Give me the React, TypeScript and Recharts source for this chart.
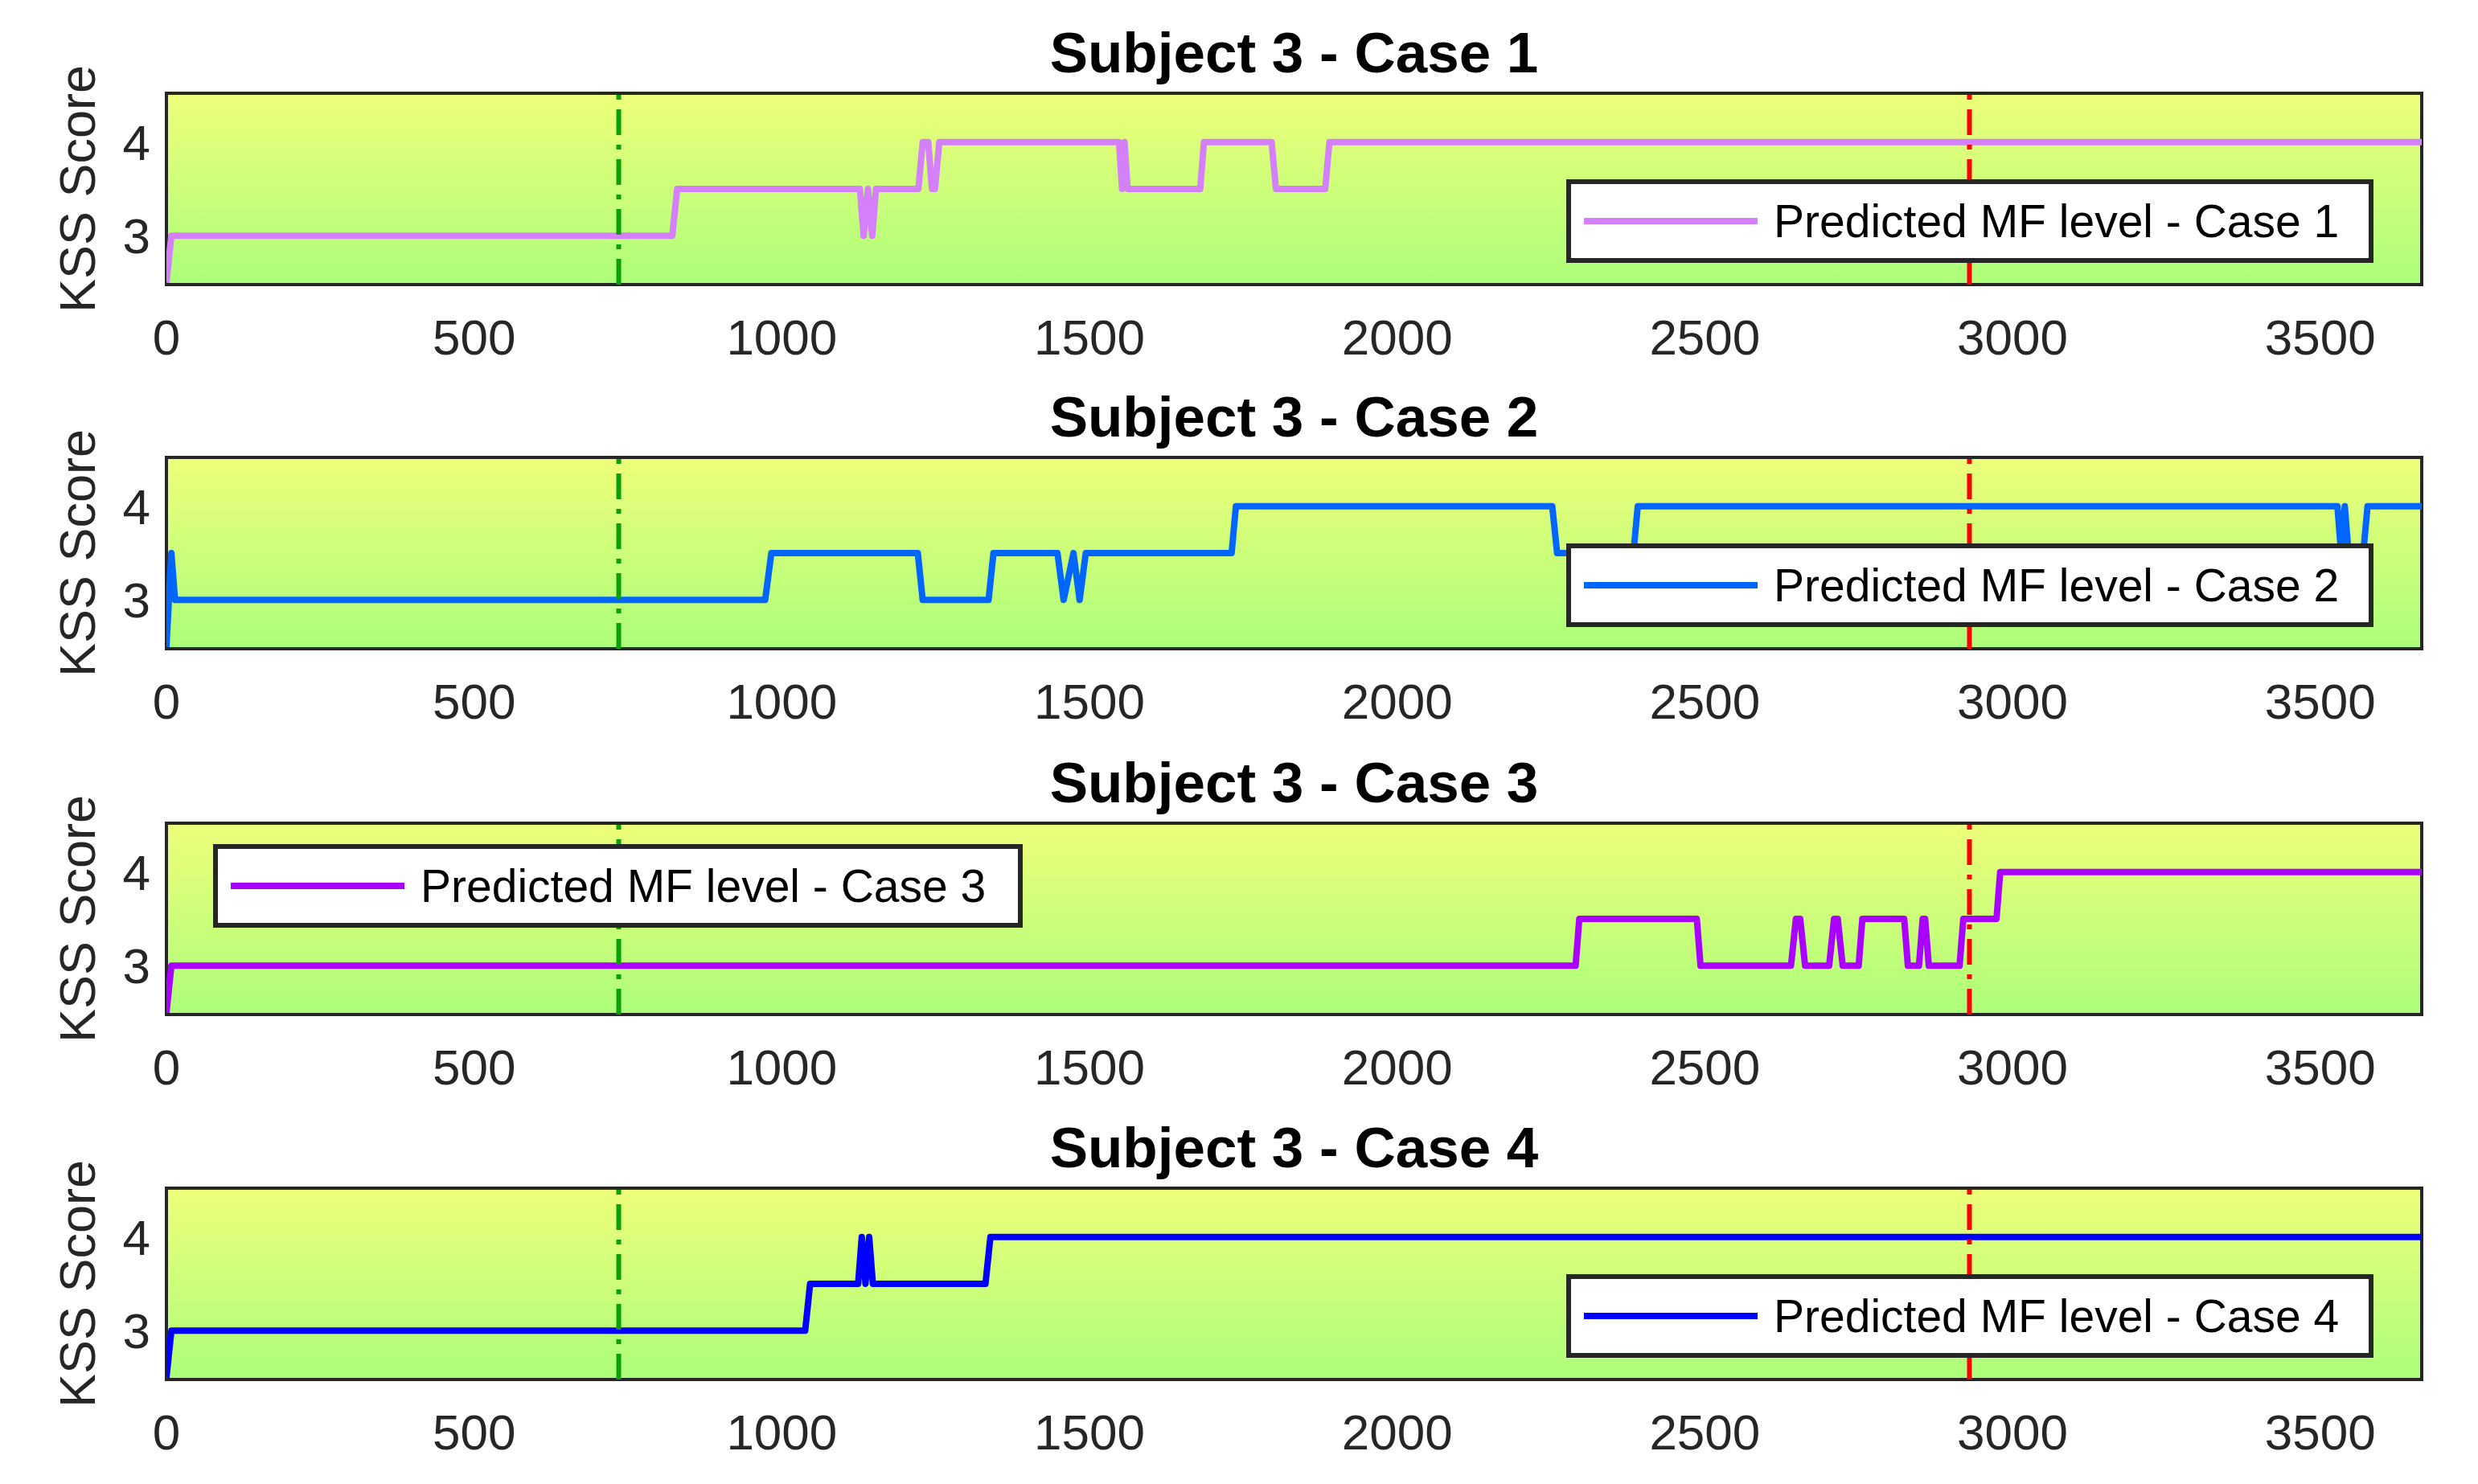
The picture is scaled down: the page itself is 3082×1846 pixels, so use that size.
import React from 'react'
import {
  LineChart, Line, XAxis, YAxis, CartesianGrid, ReferenceLine, ReferenceArea, Legend,
} from 'recharts'

// ─── data ─────────────────────────────────────────────────────
const xTicks = [0, 500, 1000, 1500, 2000, 2500, 3000, 3500]
const yTicks = [3, 4]
const X_MAX = 3665
const Y_MIN = 2.48
const Y_MAX = 4.52
const greenMarker = 735
const redMarker = 2930

const case1Time = [0, 8, 822, 830, 1127, 1133, 1140, 1147, 1153, 1222, 1229, 1238, 1244, 1249, 1256, 1548, 1553, 1557, 1562, 1680, 1686, 1796, 1803, 1883, 1890, 3665]
const case1Level = [2.5, 3, 3, 3.5, 3.5, 3, 3.5, 3, 3.5, 3.5, 4, 4, 3.5, 3.5, 4, 4, 3.5, 4, 3.5, 3.5, 4, 4, 3.5, 3.5, 4, 4]

const case2Time = [0, 8, 14, 973, 983, 1221, 1229, 1336, 1344, 1448, 1458, 1474, 1484, 1494, 1731, 1738, 2252, 2260, 2384, 2391, 3528, 3534, 3540, 3546, 3570, 3577, 3665]
const case2Level = [2.5, 3.5, 3, 3, 3.5, 3.5, 3, 3, 3.5, 3.5, 3, 3.5, 3, 3.5, 3.5, 4, 4, 3.5, 3.5, 4, 4, 3.5, 4, 3.5, 3.5, 4, 4]

const case3Time = [0, 8, 2290, 2296, 2487, 2493, 2640, 2648, 2655, 2663, 2702, 2710, 2716, 2724, 2750, 2756, 2824, 2830, 2848, 2854, 2858, 2864, 2914, 2920, 2974, 2980, 3665]
const case3Level = [2.5, 3, 3, 3.5, 3.5, 3, 3, 3.5, 3.5, 3, 3, 3.5, 3.5, 3, 3, 3.5, 3.5, 3, 3, 3.5, 3.5, 3, 3, 3.5, 3.5, 4, 4]

const case4Time = [0, 8, 1038, 1046, 1124, 1130, 1136, 1142, 1148, 1331, 1339, 3665]
const case4Level = [2.5, 3, 3, 3.5, 3.5, 4, 3.5, 4, 3.5, 3.5, 4, 4]

const FONT = '"Liberation Sans", Arial, Helvetica, sans-serif'

const PANELS = [
  { title: 'Subject 3 - Case 1', label: 'Predicted MF level - Case 1', color: '#d580fb', time: case1Time, level: case1Level, top: 16, legend: { left: 1948, top: 207, width: 1004 } },
  { title: 'Subject 3 - Case 2', label: 'Predicted MF level - Case 2', color: '#0066ff', time: case2Time, level: case2Level, top: 469, legend: { left: 1948, top: 207, width: 1004 } },
  { title: 'Subject 3 - Case 3', label: 'Predicted MF level - Case 3', color: '#aa00ff', time: case3Time, level: case3Level, top: 924, legend: { left: 265, top: 126, width: 1007 } },
  { title: 'Subject 3 - Case 4', label: 'Predicted MF level - Case 4', color: '#0000ff', time: case4Time, level: case4Level, top: 1378, legend: { left: 1948, top: 207, width: 1004 } },
]

const tickStyle = { fontSize: 62, fontFamily: FONT, fill: '#262626' }

function Panel({ p }: { p: typeof PANELS[number] }) {
  const data = p.time.map((t, i) => ({ t, level: p.level[i] }))
  return (
    <LineChart width={3082} height={454} data={data} margin={{ top: 100, right: 70, bottom: 36, left: 0 }}>
      <CartesianGrid horizontal={false} vertical={false} fill="url(#kss-bg)" />
      <XAxis
        dataKey="t" type="number" domain={[0, X_MAX]} ticks={xTicks} allowDataOverflow
        tick={tickStyle} tickLine={false} axisLine={false} tickSize={0} tickMargin={43} height={80}
      />
      <YAxis
        type="number" domain={[Y_MIN, Y_MAX]} ticks={yTicks} allowDataOverflow
        tick={tickStyle} tickLine={false} axisLine={false} tickSize={0} tickMargin={20} width={207}
        label={{ value: 'KSS Score', angle: -90, position: 'center', dx: -8, style: { fontSize: 63, fontFamily: FONT, fill: '#262626' } }}
      />
      <Line
        type="linear" dataKey="level" stroke={p.color} strokeWidth={8} dot={false}
        strokeLinejoin="round" isAnimationActive={false}
      />
      <ReferenceLine x={greenMarker} stroke="#0aa00a" strokeWidth={6} strokeDasharray="32 12 6 12" />
      <ReferenceLine x={redMarker} stroke="#ff0000" strokeWidth={6} strokeDasharray="32 12 6 12" />
      <ReferenceArea x1={0} x2={X_MAX} y1={Y_MIN} y2={Y_MAX} fill="none" stroke="#262626" strokeWidth={4} ifOverflow="visible" />
      <Legend
        layout="horizontal" verticalAlign="middle" align="center"
        wrapperStyle={{ left: p.legend.left, top: p.legend.top, width: p.legend.width, height: 104 }}
        content={() => (
          <div style={{
            boxSizing: 'border-box', width: p.legend.width, height: 104, border: '6px solid #262626',
            background: '#fff', display: 'flex', alignItems: 'center', paddingLeft: 16,
          }}>
            <svg width={216} height={12} style={{ display: 'block' }}>
              <line x1={0} y1={6} x2={216} y2={6} stroke={p.color} strokeWidth={8} />
            </svg>
            <span style={{ marginLeft: 20, fontSize: 57, fontFamily: FONT, color: '#000', whiteSpace: 'nowrap', lineHeight: 1 }}>
              {p.label}
            </span>
          </div>
        )}
      />
      <text x={1609.5} y={74} textAnchor="middle" fontSize={71} fontWeight="bold" fontFamily={FONT} fill="#000">
        {p.title}
      </text>
    </LineChart>
  )
}

export default function App() {
  return (
    <div style={{ position: 'absolute', left: 0, top: 0, width: 3082, height: 1846, background: '#fff' }}>
      <svg width={0} height={0} style={{ position: 'absolute' }}>
        <defs>
          <linearGradient id="kss-bg" x1="0" y1="0" x2="0" y2="1">
            <stop offset="0%" stopColor="#eefe7a" />
            <stop offset="100%" stopColor="#acfe7a" />
          </linearGradient>
        </defs>
      </svg>
      {PANELS.map(p => (
        <div key={p.title} style={{ position: 'absolute', left: 0, top: p.top }}>
          <Panel p={p} />
        </div>
      ))}
    </div>
  )
}
